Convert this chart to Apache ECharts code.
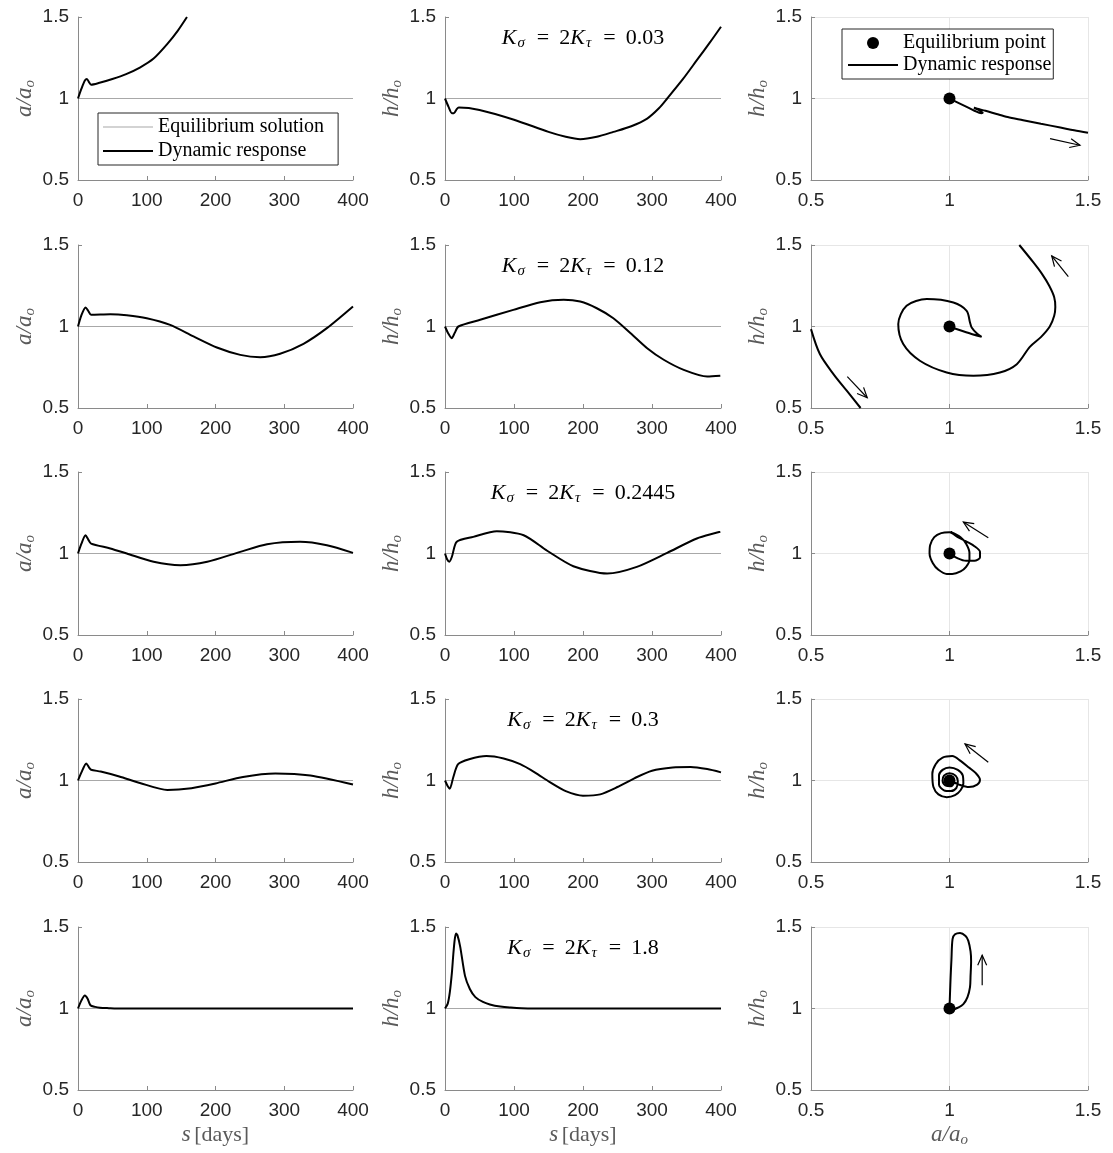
<!DOCTYPE html>
<html><head><meta charset="utf-8">
<script src="https://cdn.jsdelivr.net/npm/echarts@6/dist/echarts.min.js"></script>
<style>html,body{margin:0;padding:0;background:#fff}#c{width:1113px;height:1153px}</style>
</head><body><div id="c"></div>
<script>
// ---------------- DATA ----------------
const kValues = ['0.03', '0.12', '0.2445', '0.3', '1.8'];
const eqS = [0, 400];
const EQ = 1;
const eqPoint = [1, 1];

// Row 1 (K = 0.03)
const a1S = [0, 5, 10, 13, 16, 19, 30, 50, 70, 90, 110, 130, 145, 158.5];
const a1V = [1.0, 1.06, 1.11, 1.12, 1.10, 1.085, 1.095, 1.12, 1.15, 1.19, 1.245, 1.335, 1.415, 1.5];
const h1S = [0, 5, 10, 13, 17, 20, 50, 100, 150, 175, 196, 220, 244, 270, 293, 310, 322, 345, 365, 385, 400];
const h1V = [1.0, 0.95, 0.91, 0.91, 0.935, 0.945, 0.93, 0.87, 0.795, 0.765, 0.75, 0.765, 0.795, 0.83, 0.877, 0.94, 1.0, 1.12, 1.235, 1.35, 1.44];
const p1 = [[1,1],[1.03,0.975],[1.06,0.95],[1.09,0.925],[1.115,0.91],[1.12,0.912],[1.105,0.93],[1.088,0.943],[1.1,0.937],[1.13,0.925],[1.17,0.905],[1.21,0.886],[1.266,0.867],[1.33,0.845],[1.4,0.822],[1.45,0.805],[1.5,0.79]];
const arr1 = [[1.363, 0.754, 1.471, 0.713]];

// Row 2 (K = 0.12)
const a2S = [0, 5, 11, 15, 19, 47, 71, 100, 134, 168, 202, 236, 265, 294, 328, 362, 400];
const a2V = [1.0, 1.07, 1.117, 1.095, 1.072, 1.075, 1.069, 1.051, 1.01, 0.939, 0.871, 0.826, 0.812, 0.833, 0.894, 0.99, 1.123];
const h2S = [0, 5, 9.7, 14, 19.4, 51, 99, 138, 172, 196, 220, 244, 269, 293, 317, 346, 380, 399];
const h2V = [1.0, 0.955, 0.928, 0.96, 1.0, 1.041, 1.102, 1.149, 1.164, 1.153, 1.112, 1.051, 0.959, 0.867, 0.796, 0.734, 0.693, 0.698];
const p2 = [[1,1],[1.06,0.965],[1.116,0.937],[1.10,0.955],[1.08,0.994],[1.074,1.025],[1.062,1.096],[1.014,1.147],[0.918,1.168],[0.845,1.127],[0.815,1.015],[0.833,0.892],[0.893,0.79],[0.99,0.718],[1.086,0.698],[1.182,0.718],[1.243,0.769],[1.29,0.875],[1.33,0.935],[1.362,1.0],[1.378,1.066],[1.382,1.12],[1.378,1.18],[1.36,1.25],[1.335,1.32],[1.303,1.393],[1.252,1.5]];
const p2b = [[0.5,0.984],[0.532,0.831],[0.581,0.708],[0.629,0.606],[0.679,0.5]];
const arr2 = [[1.429, 1.306, 1.369, 1.433], [0.631, 0.692, 0.703, 0.563]];

// Row 3 (K = 0.2445)
const a3S = [0, 5, 10.9, 15, 19, 47, 71, 110, 149, 188, 236, 275, 323, 362, 400];
const a3V = [1.0, 1.06, 1.112, 1.085, 1.061, 1.031, 1.0, 0.949, 0.928, 0.949, 1.01, 1.057, 1.072, 1.051, 1.004];
const h3S = [0, 3, 6.3, 10, 17, 41, 75, 114, 148, 186, 235, 278, 322, 365, 399];
const h3V = [1.0, 0.965, 0.949, 0.98, 1.072, 1.102, 1.137, 1.112, 1.017, 0.922, 0.877, 0.918, 1.004, 1.092, 1.133];
const p3 = [[1,1],[1.03,0.97],[1.06,0.955],[1.09,0.955],[1.11,0.975],[1.11,1.01],[1.09,1.045],[1.065,1.07],[1.03,1.1],[1.0,1.13],[0.97,1.125],[0.945,1.1],[0.93,1.05],[0.928,1.0],[0.94,0.94],[0.96,0.9],[0.99,0.875],[1.01,0.875],[1.04,0.89],[1.06,0.918],[1.072,0.96],[1.072,1.004],[1.06,1.06],[1.04,1.1],[1.004,1.133]];
const arr3 = [[1.14, 1.097, 1.05, 1.193]];

// Row 4 (K = 0.3)
const a4S = [0, 5, 12, 16, 19, 33, 60, 90, 130, 165, 200, 240, 287, 338, 400];
const a4V = [1.0, 1.05, 1.105, 1.08, 1.066, 1.055, 1.025, 0.985, 0.942, 0.953, 0.982, 1.022, 1.043, 1.03, 0.975];
const h4S = [0, 4, 7, 12, 19, 35, 60, 85, 109, 130, 152, 175, 200, 225, 250, 275, 300, 330, 356, 380, 400];
const h4V = [1.0, 0.965, 0.95, 1.02, 1.1, 1.13, 1.15, 1.135, 1.1, 1.05, 0.99, 0.935, 0.907, 0.915, 0.96, 1.015, 1.06, 1.08, 1.083, 1.07, 1.05];
const p4 = [[1,1],[1.035,0.975],[1.07,0.96],[1.1,0.975],[1.11,1.005],[1.095,1.045],[1.07,1.08],[1.04,1.12],[1.01,1.15],[0.975,1.14],[0.95,1.1],[0.938,1.04],[0.942,0.96],[0.96,0.915],[0.99,0.898],[1.02,0.91],[1.04,0.94],[1.05,0.98],[1.048,1.03],[1.03,1.065],[1.0,1.08],[0.975,1.065],[0.962,1.03],[0.962,0.975],[0.98,0.94],[1.005,0.935],[1.025,0.955],[1.03,0.995],[1.022,1.03],[1.0,1.045],[0.98,1.03],[0.975,1.0],[0.985,0.97],[1.005,0.965],[1.015,0.985],[1.012,1.01],[0.998,1.02],[0.99,1.005],[0.995,0.99],[1.005,0.992],[1.003,1.003],[1,1]];
const arr4 = [[1.14, 1.112, 1.056, 1.224]];

// Row 5 (K = 1.8)
const a5S = [0, 5, 10, 14, 18, 25, 32, 45, 56, 400];
const a5V = [1.0, 1.05, 1.08, 1.06, 1.02, 1.01, 1.005, 1.002, 1.0, 1.0];
const h5S = [0, 4, 7, 10, 12, 14, 16, 18, 22, 29, 36, 44, 55, 65, 80, 94, 120, 400];
const h5V = [1.0, 1.03, 1.10, 1.22, 1.33, 1.42, 1.46, 1.45, 1.38, 1.2, 1.12, 1.07, 1.04, 1.025, 1.012, 1.006, 1.0, 1.0];
const p5 = [[1,1],[1.002,1.1],[1.004,1.19],[1.007,1.3],[1.011,1.426],[1.02,1.455],[1.038,1.463],[1.058,1.445],[1.068,1.415],[1.076,1.35],[1.078,1.29],[1.076,1.2],[1.074,1.131],[1.065,1.07],[1.05,1.027],[1.03,1.005],[1.014,0.995],[1.0,1.0]];
const arr5 = [[1.118, 1.142, 1.118, 1.327]];

// ---------------- LAYOUT ----------------
const COL_LEFT = [78, 445, 811];
const COL_W = [275, 276, 277];
const ROW_TOP = [17, 245, 472, 699, 927];
const ROW_H = 163;

const rows = [
  {aS: a1S, aV: a1V, hS: h1S, hV: h1V, phase: [p1], arrows: arr1},
  {aS: a2S, aV: a2V, hS: h2S, hV: h2V, phase: [p2, p2b], arrows: arr2},
  {aS: a3S, aV: a3V, hS: h3S, hV: h3V, phase: [p3], arrows: arr3},
  {aS: a4S, aV: a4V, hS: h4S, hV: h4V, phase: [p4], arrows: arr4},
  {aS: a5S, aV: a5V, hS: h5S, hV: h5V, phase: [p5], arrows: arr5}
];

const zip = (xs, ys) => xs.map((x, i) => [x, ys[i]]);

const AXIS_COLOR = '#8a8a8a';
const LABEL_COLOR = '#262626';
const NAME_COLOR = '#5a5a5a';
const SERIF = 'Liberation Serif';

const nameRich = {
  i: {fontFamily: SERIF, fontStyle: 'italic', fontSize: 23, lineHeight: 26, color: NAME_COLOR},
  r: {fontFamily: SERIF, fontSize: 22, lineHeight: 26, color: NAME_COLOR},
  sub: {fontFamily: SERIF, fontStyle: 'italic', fontSize: 15, lineHeight: 13, verticalAlign: 'bottom', color: NAME_COLOR}
};

function axisBase() {
  return {
    type: 'value',
    axisLine: {show: true, onZero: false, lineStyle: {color: AXIS_COLOR, width: 1}},
    axisTick: {show: true, inside: true, length: 4, lineStyle: {color: AXIS_COLOR}},
    axisLabel: {color: LABEL_COLOR, fontSize: 19, fontFamily: 'Liberation Sans'},
    nameTextStyle: {rich: nameRich}
  };
}

const grid = [], xAxis = [], yAxis = [], series = [], title = [];

rows.forEach((row, r) => {
  for (let c = 0; c < 3; c++) {
    const idx = r * 3 + c;
    grid.push({left: COL_LEFT[c], top: ROW_TOP[r], width: COL_W[c], height: ROW_H, outerBoundsMode: 'none', containLabel: false});
    const xa = axisBase();
    xa.gridIndex = idx;
    xa.axisLabel.margin = 11;
    if (c < 2) {
      xa.min = 0; xa.max = 400; xa.interval = 100;
      xa.splitLine = {show: false};
    } else {
      xa.min = 0.5; xa.max = 1.5; xa.interval = 0.5;
      xa.splitLine = {show: true, lineStyle: {color: '#e6e6e6', width: 1}};
    }
    if (r === 4) {
      xa.name = c < 2 ? '{i|s} {r|[days]}' : '{i|a}{i|/}{i|a}{sub|o}';
      xa.nameLocation = 'middle';
      xa.nameGap = 32;
    }
    xAxis.push(xa);

    const ya = axisBase();
    ya.gridIndex = idx;
    ya.min = 0.5; ya.max = 1.5; ya.interval = 0.5;
    ya.axisLabel.margin = 9;
    ya.splitLine = c === 2 ? {show: true, lineStyle: {color: '#e6e6e6', width: 1}} : {show: false};
    ya.name = c === 0 ? '{i|a}{i|/}{i|a}{sub|o}' : '{i|h}{i|/}{i|h}{sub|o}';
    ya.nameLocation = 'middle';
    ya.nameRotate = 90;
    ya.nameGap = 40;
    yAxis.push(ya);
  }

  // time plots
  [[row.aS, row.aV], [row.hS, row.hV]].forEach((pair, c) => {
    const idx = r * 3 + c;
    series.push({
      type: 'line', name: 'Equilibrium solution', xAxisIndex: idx, yAxisIndex: idx,
      data: eqS.map(s => [s, EQ]), symbol: 'none', showSymbol: false, silent: true,
      lineStyle: {color: '#a8a8a8', width: 1}, itemStyle: {color: '#a8a8a8'}, z: 2
    });
    series.push({
      type: 'line', name: 'Dynamic response', xAxisIndex: idx, yAxisIndex: idx,
      data: zip(pair[0], pair[1]), symbol: 'none', showSymbol: false, smooth: 0.25, clip: true,
      lineStyle: {color: '#000', width: 2}, itemStyle: {color: '#000'}, z: 3
    });
  });

  // phase plot
  const pIdx = r * 3 + 2;
  row.phase.forEach(seg => {
    series.push({
      type: 'line', name: 'Dynamic response', xAxisIndex: pIdx, yAxisIndex: pIdx,
      data: seg, symbol: 'none', showSymbol: false, smooth: 0.3, clip: true,
      lineStyle: {color: '#000', width: 2}, itemStyle: {color: '#000'}, z: 3
    });
  });
  series.push({
    type: 'scatter', name: 'Equilibrium point', xAxisIndex: pIdx, yAxisIndex: pIdx,
    data: [eqPoint], symbol: 'circle', symbolSize: 12, itemStyle: {color: '#000', opacity: 1}, z: 5
  });
  series.push({
    type: 'custom', name: 'arrow', xAxisIndex: pIdx, yAxisIndex: pIdx,
    data: row.arrows, encode: {x: [0, 2], y: [1, 3]}, silent: true, z: 4,
    renderItem: function (params, api) {
      const p1 = api.coord([api.value(0), api.value(1)]);
      const p2 = api.coord([api.value(2), api.value(3)]);
      const ang = Math.atan2(p2[1] - p1[1], p2[0] - p1[0]);
      const L = 11, w = 0.42;
      const h1 = [p2[0] - L * Math.cos(ang - w), p2[1] - L * Math.sin(ang - w)];
      const h2 = [p2[0] - L * Math.cos(ang + w), p2[1] - L * Math.sin(ang + w)];
      return {
        type: 'group',
        children: [
          {type: 'line', shape: {x1: p1[0], y1: p1[1], x2: p2[0], y2: p2[1]}, style: {stroke: '#000', lineWidth: 1.2}},
          {type: 'polyline', shape: {points: [h1, p2, h2]}, style: {stroke: '#000', fill: null, lineWidth: 1.2}}
        ]
      };
    }
  });

  // K title in middle column
  title.push({
    text: '{k|K}{s|σ}{q|=}{e|2}{k|K}{s|τ}{q|=}{e|' + kValues[r] + '}',
    left: COL_LEFT[1] + COL_W[1] / 2,
    top: ROW_TOP[r] + 8,
    textAlign: 'center',
    padding: 0,
    textStyle: {
      fontWeight: 'normal',
      rich: {
        k: {fontFamily: SERIF, fontStyle: 'italic', fontWeight: 'normal', fontSize: 22, lineHeight: 26, color: '#000'},
        s: {fontFamily: SERIF, fontStyle: 'italic', fontWeight: 'normal', fontSize: 15, lineHeight: 14, verticalAlign: 'bottom', color: '#000', padding: [0, 2, 0, 1]},
        q: {fontFamily: SERIF, fontWeight: 'normal', fontSize: 22, lineHeight: 26, color: '#000', padding: [0, 10, 0, 10]},
        e: {fontFamily: SERIF, fontWeight: 'normal', fontSize: 22, lineHeight: 26, color: '#000'}
      }
    }
  });
});

const legendCommon = {
  orient: 'vertical', selectedMode: false,
  itemWidth: 50, itemHeight: 12,
  borderColor: '#262626', borderWidth: 1, backgroundColor: '#fff',
  textStyle: {fontFamily: SERIF, fontSize: 20, lineHeight: 20, color: '#000'},
  z: 10
};
const ICON_THICK = 'path://M0,0h50v2h-50z';
const ICON_THIN = 'path://M0,0h50v1h-50z';

const option = {
  animation: false,
  backgroundColor: '#fff',
  title: title,
  grid: grid,
  xAxis: xAxis,
  yAxis: yAxis,
  legend: [
    Object.assign({}, legendCommon, {
      data: [{name: 'Equilibrium solution', icon: ICON_THIN}, {name: 'Dynamic response', icon: ICON_THICK}],
      left: 98, top: 113, itemGap: 4, padding: [4, 14, 4, 5]
    }),
    Object.assign({}, legendCommon, {
      data: [{name: 'Equilibrium point', icon: 'circle'}, {name: 'Dynamic response', icon: ICON_THICK}],
      left: 842, top: 29, itemGap: 2, padding: [4, 2, 4, 6]
    })
  ],
  series: series
};

const chart = echarts.init(document.getElementById('c'), null, {renderer: 'canvas'});
chart.setOption(option);
</script>
</body></html>
